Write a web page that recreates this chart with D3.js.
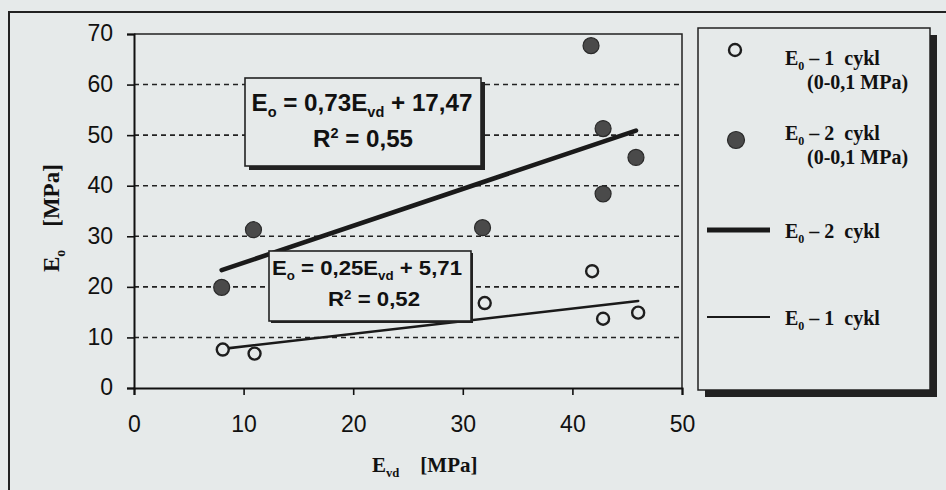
<!DOCTYPE html>
<html>
<head>
<meta charset="utf-8">
<script src="https://cdn.jsdelivr.net/npm/d3@7"></script>
<style>
  html, body { margin: 0; padding: 0; background: #e6eaea; }
  svg { display: block; }
  svg text { white-space: pre; }
</style>
</head>
<body>
<div id="chart"></div>
<script>
const evd1 = [8.1, 11.0, 32.0, 41.8, 42.8, 46.0];
const e0cykl1 = [7.6, 6.8, 16.8, 23.1, 13.7, 14.9];
const evd2 = [8.0, 10.9, 31.8, 41.7, 42.8, 42.8, 45.8];
const e0cykl2 = [19.9, 31.3, 31.7, 67.7, 51.3, 38.4, 45.6];

// trend lines as printed on the chart: [1 cykl, 2 cykl]
const fitSlope = [0.25, 0.73];
const fitIntercept = [5.71, 17.47];
const fitR2 = ['0,52', '0,55'];

const xTicks = [0, 10, 20, 30, 40, 50];
const yTicks = [0, 10, 20, 30, 40, 50, 60, 70];
const legendLabels = ['1  cykl', '2  cykl', '2  cykl', '1  cykl'];
const legendRange = '(0-0,1 MPa)';

const W = 946, H = 490;
const bg = '#e6eaea';
const sans = '"Liberation Sans", Arial, sans-serif';
const serif = '"Liberation Serif", "Times New Roman", serif';

const svg = d3.select('#chart').append('svg')
  .attr('width', W).attr('height', H);

svg.append('rect').attr('width', W).attr('height', H).attr('fill', bg);

// scanned page frame
svg.append('path')
  .attr('d', `M9,${H} V12 H${W}`)
  .attr('fill', 'none').attr('stroke', '#222').attr('stroke-width', 2);

const x = d3.scaleLinear().domain([0, 50]).range([134, 682]);
const y = d3.scaleLinear().domain([0, 70]).range([388, 34]);

// dashed grid
svg.append('g')
  .selectAll('line')
  .data(yTicks.filter((d) => d > 0 && d < 70))
  .enter()
  .append('line')
  .attr('x1', x(0)).attr('x2', x(50))
  .attr('y1', (d) => y(d)).attr('y2', (d) => y(d))
  .attr('stroke', '#222').attr('stroke-width', 1.6)
  .attr('stroke-dasharray', '5,4');

// plot frame (top and right)
svg.append('path')
  .attr('d', `M${x(0)},${y(70)} H${x(50)} V${y(0)}`)
  .attr('fill', 'none').attr('stroke', '#222').attr('stroke-width', 1.5);

// axes
const yAxis = svg.append('g')
  .attr('transform', `translate(${x(0)},0)`)
  .call(d3.axisLeft(y).tickValues(yTicks).tickSize(7).tickPadding(14));
const xAxis = svg.append('g')
  .attr('transform', `translate(0,${y(0)})`)
  .call(d3.axisBottom(x).tickValues(xTicks).tickSize(7).tickPadding(21));

[yAxis, xAxis].forEach((a) => {
  a.select('.domain').attr('stroke', '#111').attr('stroke-width', 2);
  a.selectAll('.tick line').attr('stroke', '#111').attr('stroke-width', 1.6);
  a.selectAll('.tick text')
    .attr('fill', '#111')
    .style('font-family', sans)
    .style('font-size', '23px');
});
yAxis.selectAll('.tick text').attr('dy', '0.3em');

// helper for text with subscripts / superscripts
function richText(parent, parts, px, py, opts) {
  const t = parent.append('text')
    .attr('x', px).attr('y', py)
    .attr('text-anchor', opts.anchor || 'middle')
    .attr('fill', '#111')
    .style('font-family', opts.family)
    .style('font-weight', opts.weight || 'bold')
    .style('font-size', opts.size + 'px');
  let shift = 0;
  parts.forEach((p) => {
    const want = p.sub ? opts.size * 0.24 : p.sup ? -opts.size * 0.36 : 0;
    t.append('tspan')
      .attr('dy', want - shift)
      .style('font-size', (p.sub || p.sup ? opts.size * 0.6 : opts.size) + 'px')
      .text(p.t);
    shift = want;
  });
  if (opts.len) t.attr('textLength', opts.len).attr('lengthAdjust', 'spacingAndGlyphs');
  return t;
}

// trend lines
const series = [
  { xs: evd1, ys: e0cykl1, width: 2.6 },
  { xs: evd2, ys: e0cykl2, width: 4.6 },
];
series.forEach((s, i) => {
  const ext = d3.extent(s.xs);
  svg.append('line')
    .attr('x1', x(ext[0])).attr('y1', y(fitSlope[i] * ext[0] + fitIntercept[i]))
    .attr('x2', x(ext[1])).attr('y2', y(fitSlope[i] * ext[1] + fitIntercept[i]))
    .attr('stroke', '#1a1a1a').attr('stroke-width', s.width)
    .attr('stroke-linecap', 'round');
});

// points
svg.append('g').selectAll('circle')
  .data(d3.zip(evd2, e0cykl2))
  .enter().append('circle')
  .attr('cx', (d) => x(d[0])).attr('cy', (d) => y(d[1]))
  .attr('r', 8)
  .attr('fill', '#4a4a4a').attr('stroke', '#2a2a2a').attr('stroke-width', 1.2);

svg.append('g').selectAll('circle')
  .data(d3.zip(evd1, e0cykl1))
  .enter().append('circle')
  .attr('cx', (d) => x(d[0])).attr('cy', (d) => y(d[1]))
  .attr('r', 6)
  .attr('fill', bg).attr('stroke', '#1e1e1e').attr('stroke-width', 2.4);

// equation boxes
function eqBox(bx, by, bw, bh, shadow, i, pos, size1, len1, size2, len2) {
  const g = svg.append('g');
  g.append('rect')
    .attr('x', bx + shadow).attr('y', by + shadow)
    .attr('width', bw).attr('height', bh)
    .attr('fill', '#222');
  g.append('rect')
    .attr('x', bx).attr('y', by)
    .attr('width', bw).attr('height', bh)
    .attr('fill', bg).attr('stroke', '#222').attr('stroke-width', 1.6);
  const fmt = (v) => String(v).replace('.', ',');
  richText(g, [
    { t: 'E' }, { t: 'o', sub: true },
    { t: ` = ${fmt(fitSlope[i])}E` }, { t: 'vd', sub: true },
    { t: ` + ${fmt(fitIntercept[i])}` },
  ], pos.x, pos.y, { family: sans, size: size1, len: len1 });
  richText(g, [
    { t: 'R' }, { t: '2', sup: true }, { t: ` = ${fitR2[i]}` },
  ], pos.x2, pos.y2, { family: sans, size: size2, len: len2 });
}

eqBox(245, 78, 236, 88, 4, 1, { x: 362, y: 111, x2: 363, y2: 147 }, 24, 221, 24, 100);
eqBox(269, 251, 202, 70, 2, 0, { x: 367, y: 275, x2: 374, y2: 306 }, 20, 190, 20, 92);

// legend
const lg = svg.append('g');
lg.append('rect').attr('x', 705).attr('y', 35).attr('width', 232).attr('height', 362).attr('fill', '#222');
lg.append('rect').attr('x', 698).attr('y', 28).attr('width', 232).attr('height', 362)
  .attr('fill', bg).attr('stroke', '#222').attr('stroke-width', 1.5);

const legRows = [
  { y: 58, sub: true, mark: 'open' },
  { y: 133, sub: true, mark: 'filled' },
  { y: 231, sub: false, mark: 'thick' },
  { y: 318, sub: false, mark: 'thin' },
];
legRows.forEach((r, i) => {
  if (r.mark === 'open') {
    lg.append('circle').attr('cx', 735).attr('cy', r.y - 8).attr('r', 6)
      .attr('fill', bg).attr('stroke', '#1e1e1e').attr('stroke-width', 2.4);
  } else if (r.mark === 'filled') {
    lg.append('circle').attr('cx', 736).attr('cy', r.y + 7).attr('r', 8.5)
      .attr('fill', '#4a4a4a').attr('stroke', '#2a2a2a').attr('stroke-width', 1.2);
  } else {
    lg.append('line').attr('x1', 707).attr('x2', 770)
      .attr('y1', r.y - 1).attr('y2', r.y - 1)
      .attr('stroke', '#1a1a1a').attr('stroke-width', r.mark === 'thick' ? 5 : 2);
  }
  richText(lg, [{ t: 'E' }, { t: '0', sub: true }, { t: ' – ' + legendLabels[i] }],
    785, r.y + 7, { family: serif, size: 20, anchor: 'start' });
  if (r.sub) {
    lg.append('text')
      .attr('x', 807).attr('y', r.y + 31)
      .attr('fill', '#111')
      .style('font-family', serif).style('font-weight', 'bold').style('font-size', '20px')
      .text(legendRange);
  }
});

// axis titles
richText(svg, [{ t: 'E' }, { t: 'vd', sub: true }, { t: '    [MPa]' }],
  372, 472, { family: serif, size: 21, anchor: 'start' });
const yt = svg.append('g').attr('transform', 'translate(59,272) rotate(-90)');
richText(yt, [{ t: 'E' }, { t: 'o', sub: true }, { t: '    [MPa]' }],
  0, 0, { family: serif, size: 23, anchor: 'start' });
</script>
</body>
</html>
